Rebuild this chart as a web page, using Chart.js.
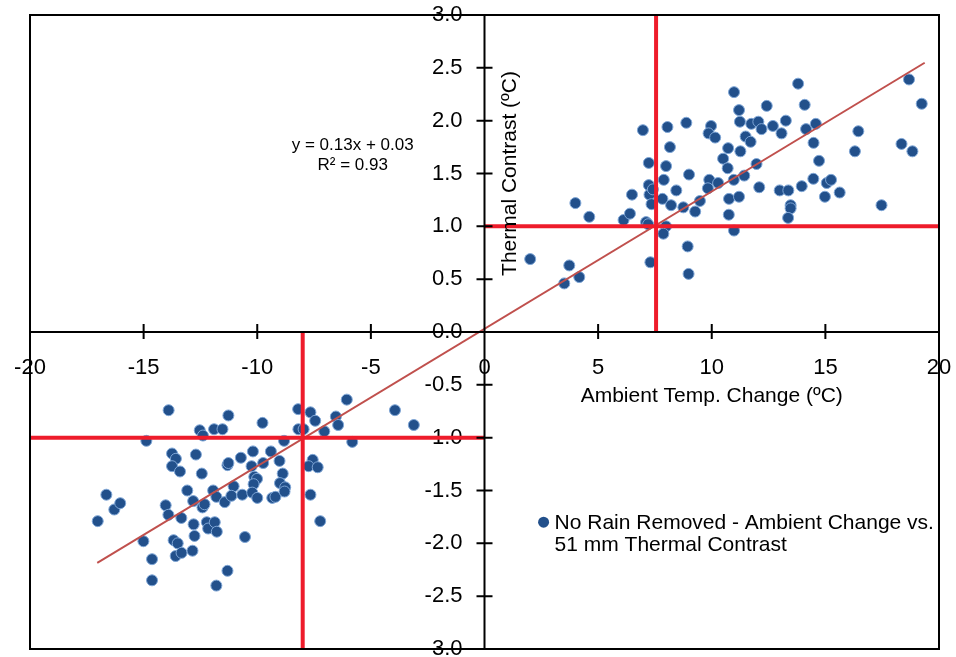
<!DOCTYPE html>
<html>
<head>
<meta charset="utf-8">
<script src="https://cdn.jsdelivr.net/npm/chart.js@4.4.0/dist/chart.umd.min.js"></script>
<style>
  html, body { margin: 0; padding: 0; background: #fff; }
  #wrap { width: 956px; height: 657px; }
</style>
</head>
<body>
<div id="wrap"><canvas id="grafico" width="956" height="657"></canvas></div>
<script>
// Warming events (ambient rise vs. thermal contrast)
const warmX = [2.01, 3.73, 3.51, 4.17, 4.0, 4.61, 6.12, 6.4, 6.49, 6.97, 7.23, 7.23, 7.26, 7.41, 7.35,
  7.11, 7.2, 7.99, 7.87, 7.3, 8.05, 8.16, 7.99, 7.89, 7.83, 8.21, 8.44, 8.75, 8.88, 9.0, 8.94, 8.98,
  9.27, 9.48, 9.89, 9.83, 10.28, 9.97, 9.86, 10.15, 10.72, 10.5, 10.7, 10.97, 10.76, 10.75, 10.98,
  10.98, 11.2, 11.24, 11.26, 11.49, 11.71, 11.74, 12.05, 12.19, 11.43, 11.97, 11.2, 12.09, 12.42,
  12.69, 13.26, 13.07, 12.99, 13.37, 13.47, 13.47, 13.36, 13.8, 14.09, 14.15, 14.58, 14.48, 13.96,
  14.47, 14.72, 15.06, 15.25, 14.98, 15.63, 16.45, 16.3, 17.47, 18.35, 18.68, 19.24, 18.83];
const warmY = [0.69, 0.63, 0.46, 0.52, 1.22, 1.09, 1.06, 1.12, 1.3, 1.91, 1.6, 1.39, 1.3, 1.35, 1.21,
  1.04, 1.02, 1.0, 0.93, 0.66, 1.94, 1.75, 1.57, 1.44, 1.26, 1.2, 1.34, 1.18, 1.98, 1.49, 0.81, 0.55,
  1.14, 1.24, 1.44, 1.36, 1.41, 1.95, 1.88, 1.84, 1.74, 1.64, 1.55, 1.44, 1.26, 1.11, 0.96,
  2.27, 2.1, 1.99, 1.71, 1.85, 1.8, 1.97, 1.99, 1.92, 1.48, 1.59, 1.28, 1.37, 2.14,
  1.95, 2.0, 1.88, 1.34, 1.34, 1.2, 1.17, 1.08, 2.35, 2.15, 1.92, 1.97, 1.79, 1.38,
  1.45, 1.62, 1.41, 1.44, 1.28, 1.32, 1.9, 1.71, 1.2, 1.78, 2.39, 2.16, 1.71];

// Cooling events (ambient drop vs. thermal contrast)
const coolX = [-17.02, -16.64, -16.29, -16.03, -15.01, -14.88, -14.63, -14.63, -14.03, -13.91, -13.9,
  -13.75, -13.58, -13.75, -13.4, -13.34, -13.68, -13.5, -13.59, -13.33, -13.08, -12.82, -12.8, -12.76,
  -12.85, -12.7, -12.53, -12.39, -12.44, -12.41, -12.32, -12.22, -12.16, -11.87, -11.78, -11.9, -11.53,
  -11.94, -11.8, -11.43, -11.31, -11.27, -11.04, -11.14, -11.27, -11.31, -11.8, -10.72, -10.66, -10.54,
  -10.19, -10.25, -10.13, -10.01, -10.16, -10.22, -10.0, -9.77, -9.74, -9.4, -9.34, -9.2, -9.02, -8.88,
  -9.0, -8.77, -8.8, -8.82, -8.2, -8.19, -7.96, -7.66, -7.45, -7.05, -7.56, -7.74, -7.34, -7.66, -7.23,
  -6.54, -6.44, -6.06, -5.82, -3.94, -3.11];
const coolY = [-1.79, -1.54, -1.68, -1.62, -1.98, -1.03, -2.15, -2.35, -1.64, -1.73, -0.74,
  -1.15, -1.2, -1.27, -1.32, -1.76, -1.97, -2.0, -2.12, -2.09, -1.5, -1.6, -1.82, -1.93,
  -2.07, -1.16, -0.93, -0.98, -1.34, -1.66, -1.63, -1.8, -1.86, -1.8, -1.89, -0.92, -0.92,
  -1.5, -1.56, -1.61, -1.26, -1.24, -1.46, -1.55, -0.79, -2.26, -2.4, -1.19, -1.54, -1.94,
  -1.13, -1.27, -1.37, -1.39, -1.44, -1.52, -1.57, -0.86, -1.24, -1.13, -1.57, -1.56, -1.22, -1.34,
  -1.43, -1.47, -1.51, -1.03, -0.73, -0.92, -0.92, -0.76, -0.84, -0.94, -1.21, -1.27, -1.28, -1.54, -1.79,
  -0.8, -0.88, -0.64, -1.04, -0.74, -0.88];

// Linear fit shown on the chart
const trendSlope = 0.13;
const trendIntercept = 0.03;
const trendFromX = -17.04;
const trendToX = 19.37;

// Mean lines for each quadrant
const warmMeanX = 7.55;
const warmMeanY = 1.0;
const coolMeanX = -8.0;
const coolMeanY = -1.0;

const xTickValues = [-20, -15, -10, -5, 0, 5, 10, 15, 20];
const yTickValues = [-3, -2.5, -2, -1.5, -1, -0.5, 0, 0.5, 1, 1.5, 2, 2.5, 3];

const seriesLabel = ['No Rain Removed - Ambient Change vs.', '51 mm Thermal Contrast'];
const xTitle = 'Ambient Temp. Change (ºC)';
const yTitle = 'Thermal Contrast (ºC)';
const fitLines = ['y = 0.13x + 0.03', 'R² = 0.93'];

const FONT = '"Liberation Sans", Arial, sans-serif';
const DOT = '#22508b';
const RED = '#ee1c2b';

const pts = (xs, ys) => xs.map((x, i) => ({ x, y: ys[i] }));
const segment = (x1, y1, x2, y2) => [{ x: x1, y: y1 }, { x: x2, y: y2 }];

function redLine(data) {
  return {
    data, showLine: true, borderColor: RED, borderWidth: 4,
    pointRadius: 0, order: 1
  };
}

// frame, axis lines, cross ticks and the text annotations
const extras = {
  id: 'extras',
  afterUpdate(chart) {
    // y labels sit left of the crossing axis, with a gap
    chart.scales.y.getLabelItems().forEach(it => { it.options.translation[0] -= 22; });
  },
  afterDraw(chart) {
    const { ctx, chartArea: a, scales: { x, y } } = chart;
    const x0 = x.getPixelForValue(0);
    const y0 = y.getPixelForValue(0);
    ctx.save();
    ctx.strokeStyle = '#000';
    ctx.lineWidth = 2;
    ctx.strokeRect(a.left, a.top, a.right - a.left, a.bottom - a.top);
    ctx.beginPath();
    ctx.moveTo(x0, a.top); ctx.lineTo(x0, a.bottom);
    ctx.moveTo(a.left, y0); ctx.lineTo(a.right, y0);
    x.ticks.forEach(t => {
      const px = x.getPixelForValue(t.value);
      ctx.moveTo(px, y0 - 8); ctx.lineTo(px, y0 + 7);
    });
    y.ticks.forEach(t => {
      const py = y.getPixelForValue(t.value);
      ctx.moveTo(x0 - 8, py); ctx.lineTo(x0 + 8, py);
    });
    ctx.stroke();

    ctx.fillStyle = '#000';
    ctx.textBaseline = 'middle';

    // equation of the fit
    ctx.font = '17px ' + FONT;
    ctx.textAlign = 'center';
    ctx.fillText(fitLines[0], x.getPixelForValue(-5.8), y.getPixelForValue(1.77));
    ctx.fillText(fitLines[1], x.getPixelForValue(-5.8), y.getPixelForValue(1.58));

    // axis titles
    ctx.font = '21px ' + FONT;
    ctx.fillText(xTitle, x.getPixelForValue(10), y0 + 64);
    ctx.save();
    ctx.translate(x0 + 26, y.getPixelForValue(1.5));
    ctx.rotate(-Math.PI / 2);
    ctx.fillText(yTitle, 0, 0);
    ctx.restore();

    // legend
    const lx = x.getPixelForValue(2.6);
    const ly = y.getPixelForValue(-1.8);
    ctx.fillStyle = DOT;
    ctx.beginPath();
    ctx.arc(lx, ly, 5.5, 0, Math.PI * 2);
    ctx.fill();
    ctx.fillStyle = '#000';
    ctx.textAlign = 'left';
    ctx.fillText(seriesLabel[0], lx + 11, ly + 1);
    ctx.fillText(seriesLabel[1], lx + 11, ly + 23);
    ctx.restore();
  }
};

new Chart(document.getElementById('grafico'), {
  type: 'scatter',
  data: {
    datasets: [
      {
        label: seriesLabel.join(' '),
        data: pts(warmX, warmY).concat(pts(coolX, coolY)),
        backgroundColor: DOT,
        borderColor: '#7fa6d6',
        borderWidth: 1,
        pointRadius: 5.5,
        order: 3
      },
      {
        data: segment(trendFromX, trendSlope * trendFromX + trendIntercept,
                      trendToX, trendSlope * trendToX + trendIntercept),
        showLine: true, borderColor: '#c0504d', borderWidth: 2,
        pointRadius: 0, order: 2
      },
      redLine(segment(warmMeanX, 0, warmMeanX, 3)),
      redLine(segment(0, warmMeanY, 20, warmMeanY)),
      redLine(segment(coolMeanX, -3, coolMeanX, 0)),
      redLine(segment(-20, coolMeanY, 0, coolMeanY))
    ]
  },
  options: {
    responsive: false,
    devicePixelRatio: 1,
    animation: false,
    layout: { padding: { left: 30, top: 15, right: 17, bottom: 8 } },
    plugins: { legend: { display: false }, tooltip: { enabled: false } },
    scales: {
      x: {
        type: 'linear', min: -20, max: 20,
        position: { y: 0 },
        afterBuildTicks: s => { s.ticks = xTickValues.map(v => ({ value: v })); },
        afterFit: s => { s.height = 0; s.paddingLeft = 0; s.paddingRight = 0; },
        grid: { display: false, drawTicks: false },
        border: { display: false },
        ticks: { color: '#000', padding: 23, font: { family: FONT, size: 22 }, maxRotation: 0 }
      },
      y: {
        type: 'linear', min: -3, max: 3,
        position: { x: 0 },
        afterBuildTicks: s => { s.ticks = yTickValues.map(v => ({ value: v })); },
        afterFit: s => { s.width = 0; s.paddingTop = 0; s.paddingBottom = 0; },
        grid: { display: false, drawTicks: false },
        border: { display: false },
        ticks: { color: '#000', font: { family: FONT, size: 22 },
                 callback: v => v.toFixed(1) }
      }
    }
  },
  plugins: [extras]
});
</script>
</body>
</html>
